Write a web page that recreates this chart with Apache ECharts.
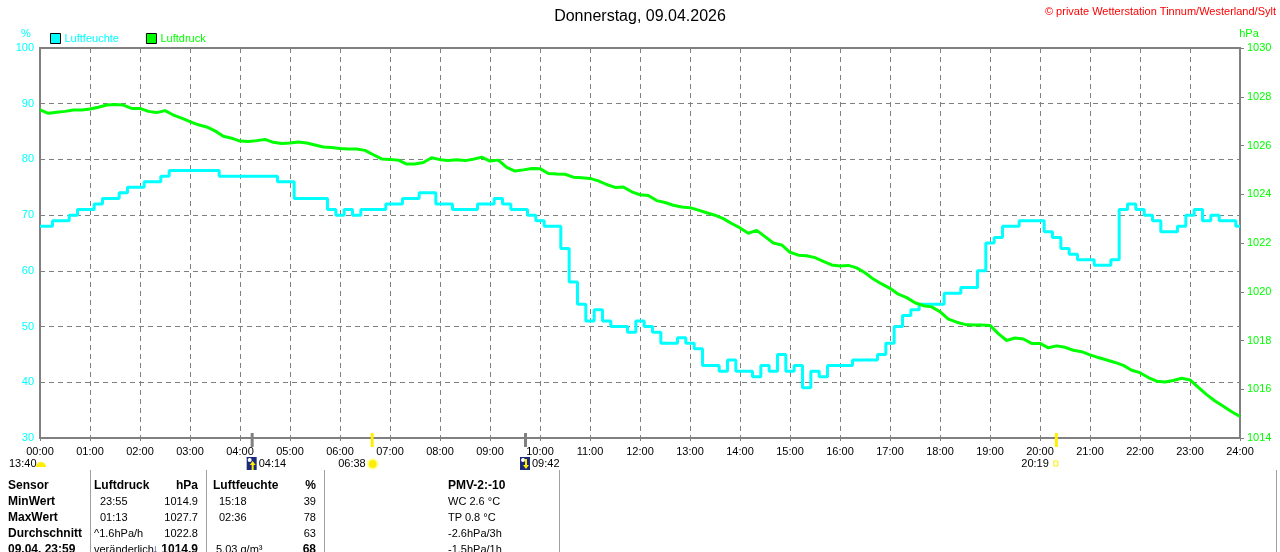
<!DOCTYPE html>
<html lang="de">
<head>
<meta charset="UTF-8">
<title>Donnerstag, 09.04.2026</title>
<script src="https://cdn.jsdelivr.net/npm/echarts@6.0.0/dist/echarts.min.js"></script>
<style>
  body { margin: 0; width: 1280px; height: 552px; overflow: hidden; background: #fff; position: relative;
         font-family: "Liberation Sans", Arial, sans-serif; }
  #chart { position: absolute; left: 0; top: 0; width: 1280px; height: 552px; }
  .t { position: absolute; font-size: 11px; line-height: 14px; color: #000; white-space: nowrap; }
  .b { font-weight: bold; font-size: 12px; }
  .sep { position: absolute; top: 470px; width: 1px; height: 90px; background: #a0a0a0; }
</style>
</head>
<body>
<div id="chart"></div>
<div id="table"></div>

<script>
// Luftfeuchte (%) and Luftdruck (hPa), one value every 10 minutes from 00:00 to 24:00
const humidity = [
  68, 68, 69, 69, 70, 71, 71, 72, 73, 73, 74, 75,   // 00:00 - 01:50
  75, 76, 76, 77, 78, 78, 78, 78, 78, 78, 77, 77,   // 02:00 - 03:50
  77, 77, 77, 77, 77, 76, 76, 73, 73, 73, 73, 71,   // 04:00 - 05:50
  70, 71, 70, 71, 71, 71, 72, 72, 73, 73, 74, 74,   // 06:00 - 07:50
  72, 72, 71, 71, 71, 72, 72, 73, 72, 71, 71, 70,   // 08:00 - 09:50
  69, 68, 68, 64, 58, 54, 51, 53, 51, 50, 50, 49,   // 10:00 - 11:50
  51, 50, 49, 47, 47, 48, 47, 46, 43, 43, 42, 44,   // 12:00 - 13:50
  42, 42, 41, 43, 42, 45, 42, 43, 39, 42, 41, 43,   // 14:00 - 15:50
  43, 43, 44, 44, 44, 45, 47, 50, 52, 53, 54, 54,   // 16:00 - 17:50
  54, 56, 56, 57, 57, 60, 65, 66, 68, 68, 69, 69,   // 18:00 - 19:50
  69, 67, 66, 64, 63, 62, 62, 61, 61, 62, 71, 72,   // 20:00 - 21:50
  71, 70, 69, 67, 67, 68, 70, 71, 69, 70, 69, 69,   // 22:00 - 23:50
  68                                                 // 24:00
];
const pressure = [
  1027.46, 1027.32, 1027.36, 1027.40, 1027.46, 1027.46, 1027.50, 1027.57, 1027.66, 1027.68, 1027.66, 1027.52,
  1027.52, 1027.40, 1027.35, 1027.43, 1027.25, 1027.12, 1026.98, 1026.85, 1026.76, 1026.60, 1026.38, 1026.30,
  1026.18, 1026.16, 1026.20, 1026.25, 1026.13, 1026.08, 1026.10, 1026.14, 1026.10, 1026.02, 1025.94, 1025.92,
  1025.88, 1025.86, 1025.86, 1025.80, 1025.62, 1025.45, 1025.43, 1025.40, 1025.24, 1025.24, 1025.30, 1025.50,
  1025.42, 1025.38, 1025.42, 1025.38, 1025.44, 1025.52, 1025.36, 1025.40, 1025.10, 1024.95, 1025.00, 1025.06,
  1025.05, 1024.85, 1024.83, 1024.82, 1024.70, 1024.68, 1024.65, 1024.55, 1024.40, 1024.28, 1024.30, 1024.10,
  1023.98, 1023.95, 1023.74, 1023.66, 1023.55, 1023.48, 1023.45, 1023.35, 1023.24, 1023.14, 1023.00, 1022.80,
  1022.62, 1022.40, 1022.52, 1022.26, 1022.00, 1021.92, 1021.62, 1021.50, 1021.48, 1021.40, 1021.25, 1021.10,
  1021.06, 1021.08, 1020.98, 1020.78, 1020.52, 1020.32, 1020.14, 1019.90, 1019.76, 1019.55, 1019.43, 1019.38,
  1019.18, 1018.88, 1018.75, 1018.66, 1018.64, 1018.64, 1018.62, 1018.28, 1018.00, 1018.10, 1018.06, 1017.88,
  1017.88, 1017.70, 1017.78, 1017.72, 1017.60, 1017.54, 1017.41, 1017.30, 1017.20, 1017.10, 1016.98, 1016.78,
  1016.68, 1016.48, 1016.33, 1016.30, 1016.36, 1016.45, 1016.38, 1016.08, 1015.78, 1015.52, 1015.30, 1015.08,
  1014.88
];
const sampleStep = 10; // minutes between samples

// sun / moon times below the axis
const dayLength = '13:40';
const moonRise = 254, moonSet = 582;   // 04:14, 09:42
const sunRise = 398, sunSet = 1219;    // 06:38, 20:19

// table under the chart
const sensorCol   = ['Sensor', 'MinWert', 'MaxWert', 'Durchschnitt', '09.04. 23:59'];
const druckInfo   = ['Luftdruck', '23:55', '01:13', '^1.6hPa/h', 'veränderlich'];
const druckVal    = ['hPa', '1014.9', '1027.7', '1022.8', '1014.9'];
const feuchteInfo = ['Luftfeuchte', '15:18', '02:36', '', '5.03 g/m³'];
const feuchteVal  = ['%', '39', '78', '63', '68'];
const pmvCol      = ['PMV-2:-10', 'WC 2.6 °C', 'TP 0.8 °C', '-2.6hPa/3h', '-1.5hPa/1h'];

const font = 'Liberation Sans';
const gridColor = '#808080';
const pad = n => String(n).padStart(2, '0');
const fmt = m => pad(Math.floor(m / 60)) + ':' + pad(m % 60);

const chart = echarts.init(document.getElementById('chart'));

chart.setOption({
  animation: false,
  textStyle: { fontFamily: font },
  title: {
    text: 'Donnerstag, 09.04.2026',
    left: 'center', top: 4,
    textStyle: { fontSize: 16, fontWeight: 'normal', color: '#000', fontFamily: font }
  },
  legend: {
    left: 50, top: 33, padding: 0,
    icon: 'rect', itemWidth: 10, itemHeight: 10, itemGap: 27,
    itemStyle: { borderColor: '#000', borderWidth: 1 },
    data: [
      { name: 'Luftfeuchte', textStyle: { color: '#00ffff', fontSize: 11, fontFamily: font } },
      { name: 'Luftdruck', textStyle: { color: '#00ff00', fontSize: 11, fontFamily: font } }
    ],
    textStyle: { fontSize: 11, fontFamily: font, padding: [0, 0, 0, -1] }
  },
  grid: { left: 40, right: 40, top: 48, bottom: 114, show: true, borderColor: gridColor, borderWidth: 2 },
  xAxis: {
    type: 'value', min: 0, max: 1440, interval: 60,
    axisLine: { show: false },
    axisTick: { show: true, length: 3, lineStyle: { color: gridColor } },
    axisLabel: { color: '#000', fontSize: 11, margin: 8, formatter: v => pad(v / 60) + ':00' },
    splitLine: { show: true, lineStyle: { color: gridColor, type: [5, 4], width: 1 } }
  },
  yAxis: [
    {
      type: 'value', min: 30, max: 100, interval: 10,
      name: '%', nameGap: 9,
      nameTextStyle: { color: '#00ffff', fontSize: 11, padding: [0, 28, 0, 0] },
      axisLine: { show: false }, axisTick: { show: false },
      axisLabel: { color: '#00ffff', fontSize: 11, margin: 6 },
      splitLine: { show: true, lineStyle: { color: gridColor, type: [5, 4], width: 1 } }
    },
    {
      type: 'value', min: 1014, max: 1030, interval: 2, position: 'right',
      name: 'hPa', nameGap: 9,
      nameTextStyle: { color: '#00ff00', fontSize: 11, padding: [0, 0, 0, 18] },
      axisLine: { show: false },
      axisTick: { show: true, length: 4, lineStyle: { color: gridColor } },
      axisLabel: { color: '#00ff00', fontSize: 11, margin: 7, formatter: v => String(v) },
      splitLine: { show: false }
    }
  ],
  series: [
    {
      name: 'Luftfeuchte', type: 'line', yAxisIndex: 0, step: 'middle',
      symbol: 'none', color: '#00ffff', lineStyle: { width: 3 },
      data: humidity.map((v, i) => [i * sampleStep, v])
    },
    {
      name: 'Luftdruck', type: 'line', yAxisIndex: 1,
      symbol: 'none', color: '#00ff00', lineStyle: { width: 3 },
      data: pressure.map((v, i) => [i * sampleStep, v])
    }
  ]
});

// markers below the time axis, placed through the x scale
const px = m => chart.convertToPixel({ xAxisIndex: 0 }, m);
const axisY = chart.convertToPixel({ yAxisIndex: 0 }, 30);
const labelY = axisY + 26;
const txt = (x, text, align) => ({
  type: 'text', x: x, y: labelY,
  style: { text: text, fill: '#000', fontSize: 11, fontFamily: font, align: align, verticalAlign: 'middle' }
});
const tick = (m, color) => ({
  type: 'rect', shape: { x: px(m) - 1, y: axisY - 5, width: 3, height: 14 }, style: { fill: color }
});
const moonIcon = (x, up) => [
  { type: 'rect', shape: { x: x - 5, y: labelY - 7, width: 10, height: 13 }, style: { fill: '#1c2a7a' } },
  { type: 'circle', shape: { cx: x - 2, cy: labelY - 4, r: 2 }, style: { fill: '#ffffff' } },
  { type: 'polygon', shape: { points: up
      ? [[x + 1, labelY - 3], [x + 4, labelY + 1], [x + 2, labelY + 1], [x + 2, labelY + 6], [x, labelY + 6], [x, labelY + 1], [x - 2, labelY + 1]]
      : [[x + 1, labelY + 5], [x + 4, labelY + 1], [x + 2, labelY + 1], [x + 2, labelY - 5], [x, labelY - 5], [x, labelY + 1], [x - 2, labelY + 1]] },
    style: { fill: '#ffee00' } }
];

const x0 = px(0);
const graphics = [
  {
    type: 'text', right: 4, top: 6,
    style: { text: '© private Wetterstation Tinnum/Westerland/Sylt', fill: '#ff0000', fontSize: 11, fontFamily: font }
  },
  tick(moonRise, '#808080'), tick(moonSet, '#808080'),
  tick(sunRise, '#ffee00'), tick(sunSet, '#ffee00'),
  txt(x0 - 31, dayLength, 'left'),
  { type: 'sector', shape: { cx: x0 + 1, cy: labelY + 3, r: 5, startAngle: Math.PI, endAngle: 2 * Math.PI },
    style: { fill: '#ffee00' } },
  ...moonIcon(px(moonRise), true),
  txt(px(moonRise) + 7, fmt(moonRise), 'left'),
  txt(px(sunRise) - 6, fmt(sunRise), 'right'),
  { type: 'circle', shape: { cx: px(sunRise) + 1, cy: labelY, r: 6 }, style: { fill: '#ffffb0' } },
  { type: 'circle', shape: { cx: px(sunRise) + 1, cy: labelY, r: 4 }, style: { fill: '#ffee00' } },
  ...moonIcon(px(moonSet), false),
  txt(px(moonSet) + 7, fmt(moonSet), 'left'),
  txt(px(sunSet) - 7, fmt(sunSet), 'right'),
  { type: 'rect', shape: { x: px(sunSet) - 2, y: labelY - 3, width: 4, height: 5 },
    style: { fill: 'none', stroke: '#ffee00', lineWidth: 1 } }
];
chart.setOption({ graphic: graphics });

// table
const table = document.getElementById('table');
const rowY = [478, 494, 510, 526, 542];
function cell(text, left, right, bold, top) {
  const d = document.createElement('div');
  d.className = 't' + (bold ? ' b' : '');
  d.textContent = text;
  d.style.top = top + 'px';
  if (right != null) d.style.right = (1280 - right) + 'px'; else d.style.left = left + 'px';
  table.appendChild(d);
}
[90, 206, 324, 559, 1276].forEach(x => {
  const s = document.createElement('div');
  s.className = 'sep';
  s.style.left = x + 'px';
  table.appendChild(s);
});
rowY.forEach((y, i) => {
  const head = i === 0, last = i === rowY.length - 1;
  const timeRow = i === 1 || i === 2;
  cell(sensorCol[i], 8, null, true, y);
  cell(druckInfo[i], timeRow ? 100 : 94, null, head, y);
  cell(druckVal[i], null, 198, head || last, y);
  cell(feuchteInfo[i], head ? 213 : (timeRow ? 219 : 216), null, head, y);
  cell(feuchteVal[i], null, 316, head || last, y);
  cell(pmvCol[i], 448, null, head, y);
});
// trend arrow in front of the current pressure
const arrow = document.createElement('div');
arrow.className = 't b';
arrow.textContent = '↓';
arrow.style.left = '152px';
arrow.style.top = rowY[4] + 'px';
arrow.style.color = '#1c2a7a';
table.appendChild(arrow);
</script>
</body>
</html>
